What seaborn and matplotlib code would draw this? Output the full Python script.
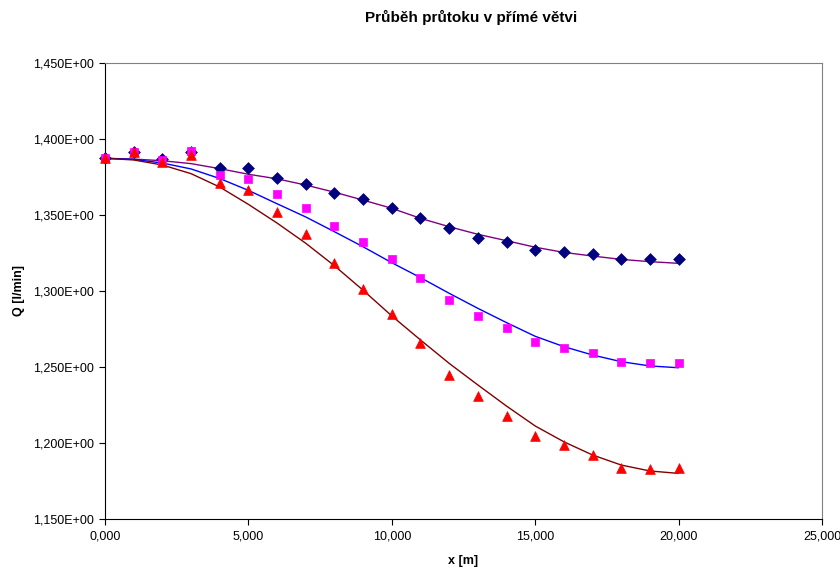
import matplotlib
matplotlib.use("Agg")
import matplotlib.pyplot as plt
import matplotlib.ticker as mticker
import seaborn as sns
import pandas as pd

title = "Průběh průtoku v přímé větvi"
xlabel = "x [m]"
ylabel = "Q [l/min]"

x_vals = list(range(0, 21))

# measured points
q_series1 = [1.3875, 1.3916, 1.3866, 1.3915, 1.3811, 1.3807, 1.3746, 1.3706, 1.3647, 1.3603,
             1.3544, 1.3478, 1.3414, 1.3346, 1.3322, 1.3270, 1.3257, 1.3241, 1.3210, 1.3212, 1.3210]
q_series2 = [1.3875, 1.3914, 1.3862, 1.3923, 1.3765, 1.3739, 1.3638, 1.3544, 1.3430, 1.3322,
             1.3208, 1.3087, 1.2943, 1.2835, 1.2759, 1.2664, 1.2627, 1.2590, 1.2533, 1.2526, 1.2526]
q_series3 = [1.3875, 1.3914, 1.3851, 1.3893, 1.3711, 1.3663, 1.3522, 1.3373, 1.3186, 1.3011,
             1.2849, 1.2660, 1.2449, 1.2307, 1.2180, 1.2046, 1.1989, 1.1921, 1.1836, 1.1829, 1.1837]

# smooth curves
q_curve1 = [1.3873, 1.3868, 1.3857, 1.3838, 1.3805, 1.3768, 1.3738, 1.3697, 1.3650, 1.3598,
            1.3544, 1.3478, 1.3423, 1.3373, 1.3331, 1.3288, 1.3254, 1.3230, 1.3208, 1.3193, 1.3182]
q_curve2 = [1.3873, 1.3866, 1.3842, 1.3803, 1.3740, 1.3662, 1.3574, 1.3487, 1.3390, 1.3291,
            1.3186, 1.3088, 1.2985, 1.2886, 1.2792, 1.2702, 1.2634, 1.2579, 1.2535, 1.2507, 1.2495]
q_curve3 = [1.3873, 1.3862, 1.3829, 1.3772, 1.3684, 1.3570, 1.3447, 1.3314, 1.3166, 1.3005,
            1.2836, 1.2678, 1.2524, 1.2382, 1.2243, 1.2112, 1.2008, 1.1921, 1.1855, 1.1816, 1.1800]

x_ticks = [0, 5, 10, 15, 20, 25]
y_ticks = [1.15, 1.20, 1.25, 1.30, 1.35, 1.40, 1.45]

sns.set_theme(style="white")
plt.rcParams['font.family'] = ['Liberation Sans', 'DejaVu Sans']
plt.rcParams['text.color'] = 'black'
plt.rcParams['axes.labelcolor'] = 'black'
plt.rcParams['xtick.color'] = 'black'
plt.rcParams['ytick.color'] = 'black'

fig = plt.figure(figsize=(8.4, 5.7), dpi=100)
ax = fig.add_axes([105/840, 1 - 519/570, (822-105)/840, (519-63)/570])

series = [
    (q_series1, q_curve1, "#000080", "D", 6.0, "#800080"),
    (q_series2, q_curve2, "#FF00FF", "s", 6.0, "#0000FF"),
    (q_series3, q_curve3, "#FF0000", "^", 7.0, "#800000"),
]
for q, c, mcol, mk, ms, lcol in series:
    df = pd.DataFrame({"x": x_vals, "q": c})
    sns.lineplot(data=df, x="x", y="q", ax=ax, color=lcol, lw=1.0, zorder=3)
for q, c, mcol, mk, ms, lcol in series:
    df = pd.DataFrame({"x": x_vals, "q": q})
    sns.scatterplot(data=df, x="x", y="q", ax=ax, marker=mk, color=mcol, s=ms**2,
                    edgecolor=mcol, linewidth=0.5, zorder=5, clip_on=False)

ax.set_xlim(0, 25)
ax.set_ylim(1.15, 1.45)
ax.set_xticks(x_ticks)
ax.set_yticks(y_ticks)
ax.xaxis.set_major_formatter(mticker.FuncFormatter(lambda v, p: f"{v:.3f}".replace(".", ",")))
ax.yaxis.set_major_formatter(mticker.FuncFormatter(lambda v, p: f"{v:.3f}".replace(".", ",") + "E+00"))
ax.tick_params(axis="both", which="major", direction="out", length=4, width=0.8,
               color="black", labelcolor="black", labelsize=9, bottom=True, left=True, pad=4)
for side in ["top", "right"]:
    ax.spines[side].set_color("#808080")
    ax.spines[side].set_linewidth(0.8)
for side in ["left", "bottom"]:
    ax.spines[side].set_color("black")
    ax.spines[side].set_linewidth(0.8)
ax.grid(False)

ax.set_xlabel(xlabel, fontsize=9, fontweight="bold", labelpad=9, color="black")
ax.set_ylabel(ylabel, fontsize=9, fontweight="bold", labelpad=6, color="black")
fig.text(471/840, 1 - 17/570, title, ha="center", va="center", fontsize=11,
         fontweight="bold", color="black")

fig.savefig("out.png", dpi=100, facecolor="white")
